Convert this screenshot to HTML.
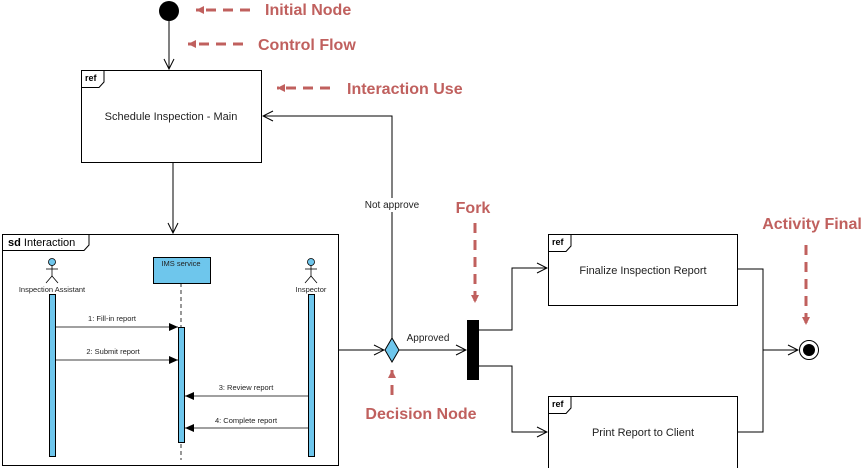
<!DOCTYPE html>
<html><head><meta charset="utf-8"><style>
html,body{margin:0;padding:0;background:#fff;width:861px;height:468px;overflow:hidden}
text{font-family:"Liberation Sans",sans-serif}
.s{font-size:11px;fill:#222}
.t{font-size:7.5px;fill:#222}
.a{font-size:16px;font-weight:bold;fill:#c0605e}
</style></head><body>
<svg width="861" height="468" viewBox="0 0 861 468" xmlns="http://www.w3.org/2000/svg">
<defs>
<marker id="o" markerWidth="12" markerHeight="12" refX="11" refY="6" orient="auto" markerUnits="userSpaceOnUse"><path d="M1,1 L11,6 L1,11" fill="none" stroke="#000" stroke-width="1"/></marker>
<marker id="f" markerWidth="10" markerHeight="10" refX="9" refY="4" orient="auto" markerUnits="userSpaceOnUse"><path d="M0,0 L9,4 L0,8 Z" fill="#000"/></marker>
<marker id="r" markerWidth="10" markerHeight="10" refX="8" refY="4" orient="auto" markerUnits="userSpaceOnUse"><path d="M0,0 L8,4 L0,8 Z" fill="#c0605e"/></marker>
</defs>
<g fill="none" stroke="#000" stroke-width="1">
<line x1="169" y1="11" x2="169" y2="69" marker-end="url(#o)"/>
<rect x="81.5" y="70.5" width="180" height="92" fill="#fff"/>
<path d="M81.5,87.5 H99 L104,82 V70.5"/>
<line x1="173" y1="162" x2="173" y2="233" marker-end="url(#o)"/>
<polyline points="392,340 392,116 263,116" marker-end="url(#o)"/>
<line x1="338" y1="350" x2="384" y2="350" marker-end="url(#o)"/>
<line x1="399" y1="350" x2="466" y2="350" marker-end="url(#o)"/>
<polyline points="479,330 512,330 512,268 547,268" marker-end="url(#o)"/>
<polyline points="479,366 512,366 512,432 547,432" marker-end="url(#o)"/>
<rect x="548.5" y="234.5" width="189" height="71" fill="#fff"/>
<path d="M548.5,251.5 H566 L571,246 V234.5"/>
<rect x="548.5" y="396.5" width="189" height="80" fill="#fff"/>
<path d="M548.5,413.5 H566 L571,408 V396.5"/>
<polyline points="737,269 763,269 763,432 737,432"/>
<line x1="763" y1="350" x2="798" y2="350" marker-end="url(#o)"/>
<circle cx="809" cy="350" r="9.5" fill="#fff"/>
<rect x="2.5" y="234.5" width="336" height="231" fill="none"/>
<path d="M2.5,250.5 H84 L89,245 V234.5"/>
</g>
<circle cx="169" cy="11" r="10" fill="#000"/>
<circle cx="809" cy="350" r="6" fill="#000"/>
<polygon points="392,338 399,350 392,362 385,350" fill="#6ec6ec" stroke="#000"/>
<rect x="467" y="320" width="12" height="60" fill="#000"/>
<rect x="372" y="198" width="42" height="14" fill="#fff"/>
<text x="392" y="208" class="s" text-anchor="middle" style="font-size:10px">Not approve</text>
<text x="428" y="341" class="s" text-anchor="middle" style="font-size:10px">Approved</text>
<text x="171" y="120" class="s" text-anchor="middle">Schedule Inspection - Main</text>
<text x="85" y="81" style="font-size:9px;font-weight:bold">ref</text>
<text x="552" y="245" style="font-size:9px;font-weight:bold">ref</text>
<text x="552" y="407" style="font-size:9px;font-weight:bold">ref</text>
<text x="643" y="274" class="s" text-anchor="middle">Finalize Inspection Report</text>
<text x="643" y="436" class="s" text-anchor="middle">Print Report to Client</text>
<text x="8" y="246" style="font-size:11px"><tspan font-weight="bold">sd</tspan> Interaction</text>
<!-- lifelines -->
<g stroke="#000" stroke-width="0.8" fill="none">
<circle cx="52" cy="262" r="3.5" fill="#6ec6ec"/><line x1="52" y1="265" x2="52" y2="276"/><line x1="46" y1="269" x2="58" y2="269"/><path d="M46,283 L52,276 L58,283"/>
<circle cx="311" cy="262" r="3.5" fill="#6ec6ec"/><line x1="311" y1="265" x2="311" y2="276"/><line x1="305" y1="269" x2="317" y2="269"/><path d="M305,283 L311,276 L317,283"/>
<line x1="181" y1="283" x2="181" y2="460" stroke-dasharray="4,3"/>
</g>
<text x="52" y="292" class="t" text-anchor="middle">Inspection Assistant</text>
<text x="311" y="292" class="t" text-anchor="middle">Inspector</text>
<rect x="153.5" y="257.5" width="57" height="26" fill="#6ec6ec" stroke="#000"/>
<text x="181" y="266" class="t" text-anchor="middle">IMS service</text>
<rect x="49.5" y="294.5" width="6" height="162" fill="#6ec6ec" stroke="#000"/>
<rect x="308.5" y="294.5" width="6" height="162" fill="#6ec6ec" stroke="#000"/>
<rect x="178.5" y="327.5" width="6" height="115" fill="#6ec6ec" stroke="#000"/>
<g stroke="#000" stroke-width="0.8">
<line x1="55" y1="327" x2="178" y2="327" marker-end="url(#f)"/>
<line x1="55" y1="360" x2="178" y2="360" marker-end="url(#f)"/>
<line x1="308" y1="396" x2="185" y2="396" marker-end="url(#f)"/>
<line x1="308" y1="428" x2="185" y2="428" marker-end="url(#f)"/>
</g>
<text x="112" y="321" class="t" text-anchor="middle">1: Fill-in report</text>
<text x="113" y="354" class="t" text-anchor="middle">2: Submit report</text>
<text x="246" y="390" class="t" text-anchor="middle">3: Review  report</text>
<text x="246" y="423" class="t" text-anchor="middle">4: Complete report</text>
<!-- annotations -->
<g stroke="#c0605e" stroke-width="3" stroke-dasharray="10,7" fill="none">
<line x1="250" y1="10" x2="196" y2="10" marker-end="url(#r)"/>
<line x1="243" y1="44" x2="188" y2="44" marker-end="url(#r)"/>
<line x1="330" y1="88" x2="277" y2="88" marker-end="url(#r)"/>
<line x1="475" y1="223" x2="475" y2="303" marker-end="url(#r)"/>
<line x1="806" y1="245" x2="806" y2="325" marker-end="url(#r)"/>
<line x1="392" y1="395" x2="392" y2="370" marker-end="url(#r)"/>
</g>
<text x="265" y="15" class="a">Initial Node</text>
<text x="258" y="50" class="a">Control Flow</text>
<text x="347" y="94" class="a">Interaction Use</text>
<text x="473" y="213" class="a" text-anchor="middle">Fork</text>
<text x="812" y="229" class="a" text-anchor="middle">Activity Final</text>
<text x="421" y="419" class="a" text-anchor="middle">Decision Node</text>
</svg>
</body></html>
